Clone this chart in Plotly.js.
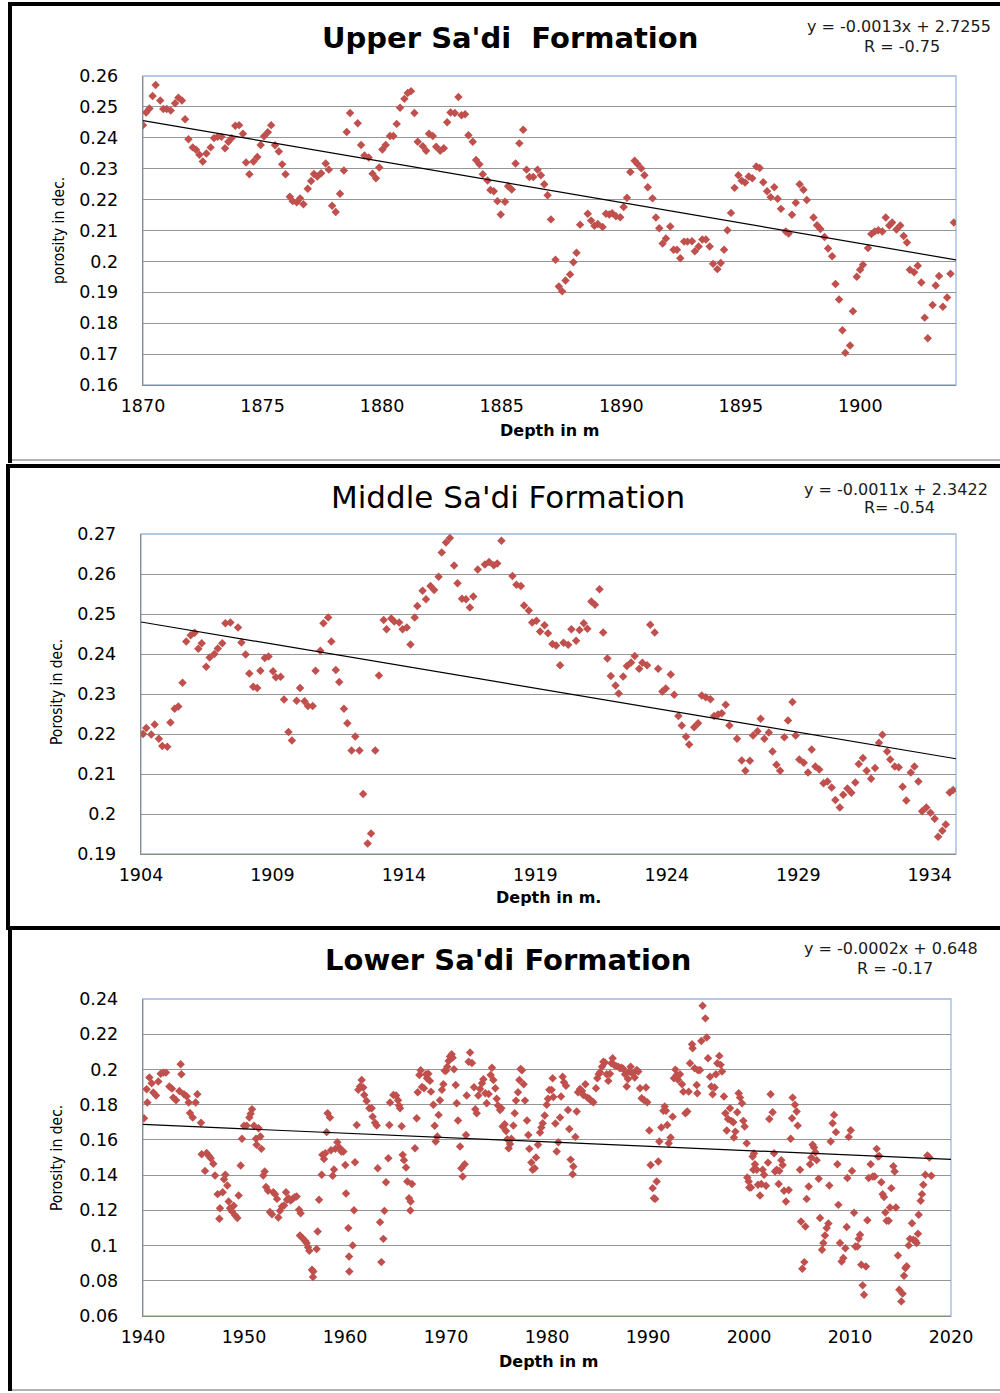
<!DOCTYPE html>
<html>
<head>
<meta charset="utf-8">
<script src="https://cdn.plot.ly/plotly-3.0.1.min.js"></script>
<style>
html,body{margin:0;padding:0;background:#fff;}
#chart{width:1000px;height:1393px;}
</style>
</head>
<body>
<div id="chart"></div>
<script>
// ---------------- DATA ----------------
const upperTitle = "Upper Sa'di  Formation";
const middleTitle = "Middle Sa'di Formation";
const lowerTitle = "Lower Sa'di Formation";

const upperPoints = [[1870.00,0.2441],[1870.13,0.2482],[1870.27,0.2495],[1870.40,0.2535],[1870.53,0.2571],[1870.72,0.2521],[1870.85,0.2493],[1870.99,0.2493],[1871.16,0.2488],[1871.34,0.2512],[1871.48,0.2530],[1871.63,0.2521],[1871.76,0.2460],[1871.90,0.2395],[1872.08,0.2369],[1872.22,0.2361],[1872.36,0.2345],[1872.50,0.2323],[1872.65,0.2349],[1872.83,0.2369],[1872.97,0.2399],[1873.12,0.2403],[1873.28,0.2403],[1873.43,0.2366],[1873.57,0.2387],[1873.71,0.2399],[1873.86,0.2439],[1874.02,0.2441],[1874.18,0.2413],[1874.31,0.2320],[1874.45,0.2282],[1874.62,0.2323],[1874.78,0.2338],[1874.92,0.2377],[1875.06,0.2405],[1875.22,0.2418],[1875.36,0.2441],[1875.52,0.2376],[1875.68,0.2356],[1875.82,0.2314],[1875.96,0.2282],[1876.14,0.2209],[1876.26,0.2195],[1876.43,0.2191],[1876.57,0.2204],[1876.71,0.2185],[1876.89,0.2235],[1877.03,0.2260],[1877.15,0.2283],[1877.29,0.2275],[1877.45,0.2285],[1877.64,0.2317],[1877.77,0.2297],[1877.91,0.2180],[1878.06,0.2160],[1878.24,0.2219],[1878.40,0.2294],[1878.52,0.2419],[1878.66,0.2480],[1878.98,0.2447],[1879.12,0.2377],[1879.26,0.2343],[1879.44,0.2336],[1879.60,0.2284],[1879.74,0.2269],[1879.88,0.2304],[1880.01,0.2362],[1880.15,0.2377],[1880.33,0.2406],[1880.47,0.2406],[1880.61,0.2445],[1880.75,0.2497],[1880.93,0.2526],[1881.07,0.2545],[1881.21,0.2551],[1881.35,0.2480],[1881.49,0.2387],
[1881.70,0.2373],[1881.84,0.2358],[1881.96,0.2413],[1882.12,0.2406],[1882.26,0.2371],[1882.43,0.2358],[1882.58,0.2366],[1882.72,0.2450],[1882.86,0.2482],[1883.04,0.2480],[1883.19,0.2532],[1883.32,0.2473],[1883.47,0.2476],[1883.61,0.2408],[1883.79,0.2387],[1883.93,0.2328],[1884.07,0.2314],[1884.21,0.2282],[1884.41,0.2262],[1884.53,0.2231],[1884.67,0.2227],[1884.82,0.2195],[1884.96,0.2152],[1885.14,0.2193],[1885.27,0.2243],[1885.42,0.2233],[1885.58,0.2317],[1885.74,0.2382],[1885.90,0.2426],[1886.04,0.2297],[1886.16,0.2273],[1886.32,0.2273],[1886.50,0.2297],[1886.64,0.2279],[1886.78,0.2250],[1886.92,0.2214],[1887.06,0.2136],[1887.25,0.2005],[1887.39,0.1919],[1887.53,0.1903],[1887.67,0.1938],[1887.86,0.1958],[1888.00,0.1997],[1888.13,0.2028],[1888.28,0.2119],[1888.60,0.2154],[1888.74,0.2132],[1888.88,0.2115],[1889.02,0.2121],[1889.22,0.2111],[1889.36,0.2154],[1889.50,0.2152],[1889.62,0.2156],[1889.78,0.2146],[1889.96,0.2143],[1890.10,0.2176],[1890.24,0.2206],[1890.38,0.2289],[1890.56,0.2326],[1890.68,0.2315],[1890.84,0.2301],[1890.97,0.2279],[1891.11,0.2240],[1891.31,0.2204],[1891.45,0.2142],[1891.59,0.2107],[1891.73,0.2058],[1891.87,0.2074],[1892.05,0.2113],[1892.19,0.2038],[1892.33,0.2038],[1892.47,0.2010],[1892.63,0.2064],[1892.77,0.2064],
[1892.96,0.2065],[1893.08,0.2033],[1893.24,0.2048],[1893.39,0.2071],[1893.54,0.2071],[1893.70,0.2048],[1893.84,0.1992],[1894.02,0.1975],[1894.16,0.1995],[1894.30,0.2038],[1894.44,0.2101],[1894.59,0.2157],[1894.74,0.2238],[1894.90,0.2279],[1895.04,0.2261],[1895.18,0.2255],[1895.33,0.2275],[1895.48,0.2269],[1895.65,0.2307],[1895.79,0.2302],[1895.94,0.2256],[1896.10,0.2227],[1896.25,0.2208],[1896.40,0.2240],[1896.54,0.2203],[1896.68,0.2170],[1896.88,0.2097],[1897.00,0.2090],[1897.14,0.2151],[1897.30,0.2190],[1897.46,0.2250],[1897.62,0.2232],[1897.76,0.2199],[1898.04,0.2142],[1898.19,0.2117],[1898.33,0.2105],[1898.50,0.2079],[1898.65,0.2042],[1898.82,0.2017],[1898.96,0.1927],[1899.11,0.1877],[1899.25,0.1777],[1899.37,0.1704],[1899.57,0.1728],[1899.69,0.1839],[1899.85,0.1950],[1899.99,0.1973],[1900.11,0.1989],[1900.32,0.2043],[1900.46,0.2089],[1900.60,0.2097],[1900.75,0.2101],[1900.92,0.2097],[1901.06,0.2142],[1901.21,0.2116],[1901.33,0.2126],[1901.51,0.2103],[1901.67,0.2116],[1901.81,0.2082],[1901.95,0.2061],[1902.07,0.1973],[1902.25,0.1965],[1902.40,0.1986],[1902.55,0.1932],[1902.69,0.1818],[1902.82,0.1751],[1903.02,0.1859],[1903.15,0.1922],[1903.29,0.1953],[1903.45,0.1853],[1903.63,0.1883],[1903.77,0.1960],[1903.91,0.2126]];

const middlePoints = [[1904.08,0.2200],[1904.20,0.2215],[1904.39,0.2199],[1904.52,0.2224],[1904.68,0.2188],[1904.81,0.2170],[1905.00,0.2168],[1905.12,0.2229],[1905.28,0.2263],[1905.42,0.2269],[1905.58,0.2328],[1905.72,0.2431],[1905.89,0.2447],[1906.04,0.2453],[1906.18,0.2413],[1906.31,0.2427],[1906.48,0.2368],[1906.61,0.2391],[1906.79,0.2400],[1906.92,0.2414],[1907.09,0.2427],[1907.21,0.2477],[1907.40,0.2479],[1907.69,0.2466],[1907.82,0.2429],[1907.98,0.2399],[1908.12,0.2351],[1908.27,0.2318],[1908.42,0.2315],[1908.54,0.2358],[1908.71,0.2390],[1908.85,0.2394],[1909.02,0.2357],[1909.13,0.2342],[1909.31,0.2343],[1909.44,0.2286],[1909.61,0.2205],[1909.74,0.2184],[1909.92,0.2283],[1910.05,0.2315],[1910.22,0.2282],[1910.35,0.2270],[1910.53,0.2270],[1910.64,0.2358],[1910.82,0.2408],[1910.94,0.2477],[1911.12,0.2491],[1911.24,0.2431],[1911.41,0.2360],[1911.54,0.2330],[1911.72,0.2263],[1911.85,0.2227],[1912.01,0.2159],[1912.15,0.2194],[1912.31,0.2159],[1912.45,0.2050],[1912.62,0.1926],[1912.75,0.1951],[1912.91,0.2159],[1913.05,0.2346],[1913.23,0.2485],[1913.34,0.2462],[1913.52,0.2489],[1913.63,0.2481],[1913.82,0.2479],[1913.95,0.2462],[1914.11,0.2466],[1914.25,0.2424],[1914.41,0.2491],[1914.51,0.2520],
[1914.71,0.2558],[1914.84,0.2537],[1915.01,0.2570],[1915.15,0.2560],[1915.32,0.2593],[1915.44,0.2654],[1915.60,0.2679],[1915.75,0.2690],[1915.91,0.2621],[1916.04,0.2577],[1916.21,0.2538],[1916.36,0.2537],[1916.51,0.2516],[1916.64,0.2544],[1916.81,0.2611],[1917.08,0.2624],[1917.24,0.2630],[1917.42,0.2622],[1917.55,0.2626],[1917.71,0.2683],[1918.13,0.2595],[1918.28,0.2573],[1918.45,0.2570],[1918.57,0.2521],[1918.75,0.2509],[1918.88,0.2479],[1919.04,0.2483],[1919.18,0.2456],[1919.35,0.2472],[1919.48,0.2452],[1919.65,0.2425],[1919.79,0.2421],[1919.94,0.2372],[1920.07,0.2428],[1920.25,0.2423],[1920.37,0.2462],[1920.55,0.2433],[1920.68,0.2460],[1920.84,0.2477],[1920.98,0.2463],[1921.13,0.2531],[1921.27,0.2523],[1921.44,0.2562],[1921.58,0.2454],[1921.74,0.2389],[1921.87,0.2345],[1922.05,0.2321],[1922.17,0.2301],[1922.34,0.2344],[1922.48,0.2370],[1922.64,0.2379],[1922.78,0.2395],[1922.95,0.2363],[1923.07,0.2378],[1923.25,0.2372],[1923.37,0.2473],[1923.54,0.2454],[1923.67,0.2363],[1923.83,0.2306],[1923.96,0.2314],[1924.15,0.2349],[1924.28,0.2298],[1924.44,0.2245],[1924.57,0.2221],[1924.73,0.2193],[1924.85,0.2174],
[1925.04,0.2217],[1925.19,0.2227],[1925.33,0.2296],[1925.48,0.2292],[1925.66,0.2287],[1925.80,0.2245],[1925.95,0.2249],[1926.09,0.2252],[1926.24,0.2273],[1926.38,0.2221],[1926.67,0.2188],[1926.85,0.2134],[1926.99,0.2108],[1927.16,0.2133],[1927.28,0.2196],[1927.45,0.2207],[1927.57,0.2238],[1927.71,0.2188],[1927.88,0.2204],[1928.02,0.2156],[1928.17,0.2123],[1928.31,0.2108],[1928.47,0.2192],[1928.61,0.2234],[1928.78,0.2280],[1928.90,0.2196],[1929.04,0.2136],[1929.21,0.2128],[1929.37,0.2104],[1929.51,0.2161],[1929.65,0.2119],[1929.80,0.2111],[1929.96,0.2077],[1930.11,0.2081],[1930.27,0.2066],[1930.41,0.2035],[1930.58,0.2016],[1930.71,0.2048],[1930.87,0.2064],[1931.02,0.2053],[1931.17,0.2079],[1931.30,0.2125],[1931.46,0.2140],[1931.60,0.2108],[1931.77,0.2088],[1931.92,0.2115],[1932.07,0.2178],[1932.20,0.2198],[1932.38,0.2156],[1932.50,0.2136],[1932.67,0.2119],[1932.82,0.2117],[1932.97,0.2068],[1933.11,0.2034],[1933.28,0.2104],[1933.42,0.2119],[1933.57,0.2081],[1933.71,0.2007],[1933.87,0.2016],[1934.03,0.2003],[1934.19,0.1988],[1934.32,0.1943],[1934.48,0.1958],[1934.61,0.1974],[1934.76,0.2054],[1934.89,0.2060]];

const lowerPoints = [[1940.10,0.1723],[1940.36,0.1888],[1940.43,0.1812],[1940.63,0.1954],[1940.86,0.1922],[1941.02,0.1869],[1941.29,0.1852],[1941.52,0.1931],[1941.75,0.1975],[1942.01,0.1982],[1942.28,0.1982],[1942.61,0.1903],[1942.87,0.1891],[1943.00,0.1840],[1943.27,0.1825],[1943.60,0.1878],[1943.73,0.2029],[1943.80,0.1973],[1944.06,0.1859],[1944.32,0.1848],[1944.52,0.1812],[1944.65,0.1753],[1944.92,0.1727],[1945.21,0.1812],[1945.38,0.1859],[1945.74,0.1697],[1945.81,0.1519],[1946.14,0.1424],[1946.30,0.1526],[1946.53,0.1509],[1946.70,0.1496],[1946.96,0.1464],[1947.13,0.1398],[1947.39,0.1292],[1947.56,0.1152],[1947.62,0.1212],[1947.89,0.1303],[1948.02,0.1377],[1948.15,0.1402],[1948.35,0.1341],[1948.48,0.1250],[1948.61,0.1212],[1948.81,0.1194],[1948.98,0.1226],[1949.14,0.1171],[1949.34,0.1156],[1949.47,0.1284],[1949.67,0.1454],[1949.80,0.1606],[1950.00,0.1680],[1950.26,0.1681],[1950.53,0.1727],[1950.66,0.1748],[1950.79,0.1774],[1950.99,0.1680],[1951.19,0.1606],[1951.25,0.1572],[1951.45,0.1666],[1951.62,0.1619],[1951.72,0.1549],[1951.91,0.1398],[1952.05,0.1420],[1952.18,0.1332],[1952.38,0.1311],[1952.57,0.1190],[1952.77,0.1178],[1952.90,0.1303],[1953.07,0.1292],[1953.27,0.1265],[1953.40,0.1159],[1953.56,0.1197],[1953.76,0.1222],[1953.96,0.1228],[1954.16,0.1303],[1954.26,0.1260],[1954.42,0.1269],[1954.62,0.1256],[1954.82,0.1265],[1955.02,0.1275],[1955.21,0.1279],[1955.45,0.1203],[1955.54,0.1057],[1955.61,0.1184],[1955.81,0.1042],[1956.04,0.1027],[1956.20,0.1014],[1956.34,0.0991],[1956.47,0.0970],[1956.73,0.0863],[1956.83,0.0821],[1956.86,0.0853],[1957.19,0.0980],[1957.29,0.1080],[1957.43,0.1260],[1957.69,0.1402],[1957.76,0.1515],[1957.92,0.1492],[1958.05,0.1524],[1958.18,0.1644],[1958.28,0.1751],[1958.51,0.1727],[1958.61,0.1541],[1958.78,0.1396],[1958.91,0.1432],[1959.04,0.1549],[1959.24,0.1587],[1959.44,0.1557],[1959.64,0.1534],[1959.84,0.1534],[1960.03,0.1458],[1960.10,0.1296],[1960.33,0.1099],[1960.40,0.0938],[1960.43,0.0853],
[1960.76,0.1001],[1960.89,0.1201],[1960.99,0.1473],[1961.16,0.1685],[1961.32,0.1884],[1961.49,0.1903],[1961.65,0.1940],[1961.81,0.1897],[1961.91,0.1855],[1962.14,0.1821],[1962.41,0.1780],[1962.64,0.1780],[1962.74,0.1732],[1962.97,0.1698],[1963.14,0.1681],[1963.24,0.1439],[1963.47,0.1133],[1963.60,0.0906],[1963.80,0.1038],[1963.90,0.1197],[1964.06,0.1360],[1964.29,0.1496],[1964.39,0.1685],[1964.46,0.1812],[1964.79,0.1855],[1965.05,0.1852],[1965.25,0.1825],[1965.35,0.1795],[1965.45,0.1780],[1965.61,0.1678],[1965.71,0.1515],[1965.84,0.1485],[1966.04,0.1443],[1966.17,0.1364],[1966.34,0.1269],[1966.47,0.1199],[1966.50,0.1250],[1966.63,0.1349],[1966.93,0.1553],[1967.10,0.1723],[1967.20,0.1870],[1967.36,0.1969],[1967.49,0.1995],[1967.62,0.1901],[1967.82,0.1893],[1968.02,0.1973],[1968.12,0.1950],[1968.25,0.1976],[1968.41,0.1935],[1968.51,0.1874],[1968.75,0.1799],[1968.88,0.1680],[1968.98,0.1591],[1969.14,0.1619],[1969.27,0.1742],[1969.40,0.1825],[1969.60,0.1884],[1969.74,0.1916],[1969.87,0.1992],[1970.00,0.1992],[1970.13,0.2016],[1970.26,0.2048],[1970.40,0.2073],[1970.56,0.2086],[1970.66,0.2067],[1970.79,0.2001],[1970.96,0.1912],[1971.06,0.1808],[1971.19,0.1710],[1971.39,0.1562],[1971.52,0.1439],[1971.65,0.1392],[1971.85,0.1462],[1971.98,0.1628],[1972.05,0.1852],[1972.24,0.2044],[1972.38,0.2096],[1972.57,0.2037],[1972.77,0.1899],[1972.90,0.1774],[1973.04,0.1751],[1973.20,0.1852],[1973.37,0.1889],[1973.56,0.1922],[1973.70,0.1944],[1973.89,0.1865],[1974.03,0.1808],[1974.22,0.1861],[1974.42,0.1969],[1974.55,0.2010],[1974.69,0.1940],[1974.88,0.1893],[1975.02,0.1833],[1975.15,0.1795],[1975.35,0.1770],[1975.48,0.1780],[1975.61,0.1676],[1975.81,0.1689],[1975.94,0.1651],[1976.07,0.1604],[1976.20,0.1553],[1976.34,0.1576],[1976.47,0.1606],[1976.67,0.1681],[1976.80,0.1751],[1976.93,0.1823],[1977.13,0.1870],[1977.26,0.1940],[1977.39,0.2003],[1977.52,0.1995],[1977.69,0.1916],[1977.82,0.1823],[1978.02,0.1710],[1978.15,0.1628],[1978.25,0.1549],[1978.45,0.1472],[1978.58,0.1430],[1978.78,0.1439],[1978.91,0.1500],[1979.11,0.1572],[1979.31,0.1642],[1979.44,0.1670],[1979.57,0.1695],[1979.77,0.1738],[1979.97,0.1799],[1980.10,0.1833],[1980.23,0.1884],
[1980.46,0.1884],[1980.56,0.1950],[1980.63,0.1844],[1980.83,0.1693],[1980.96,0.1534],[1981.12,0.1587],[1981.29,0.1727],[1981.39,0.1846],[1981.55,0.1959],[1981.68,0.1927],[1981.88,0.1908],[1982.08,0.1770],[1982.21,0.1662],[1982.34,0.1488],[1982.54,0.1405],[1982.61,0.1449],[1982.81,0.1617],[1982.94,0.1761],[1983.07,0.1870],[1983.27,0.1889],[1983.47,0.1878],[1983.60,0.1855],[1983.80,0.1916],[1984.00,0.1840],[1984.19,0.1833],[1984.39,0.1821],[1984.59,0.1814],[1984.85,0.1893],[1984.98,0.1950],[1985.12,0.1973],[1985.25,0.1984],[1985.45,0.2016],[1985.58,0.2044],[1985.74,0.2040],[1985.91,0.1973],[1986.07,0.1935],[1986.24,0.1976],[1986.37,0.2035],[1986.50,0.2063],[1986.63,0.2026],[1986.83,0.2020],[1987.06,0.2016],[1987.23,0.2007],[1987.39,0.2010],[1987.56,0.2003],[1987.72,0.1973],[1987.89,0.1903],[1988.02,0.1946],[1988.15,0.1988],[1988.28,0.2016],[1988.48,0.1976],[1988.68,0.1954],[1988.88,0.1997],[1989.04,0.1988],[1989.21,0.1893],[1989.37,0.1836],[1989.60,0.1827],[1989.80,0.1897],[1989.93,0.1814],[1990.13,0.1653],[1990.26,0.1458],[1990.46,0.1326],[1990.59,0.1269],[1990.72,0.1265],[1990.86,0.1364],[1991.02,0.1477],[1991.12,0.1591],[1991.32,0.1670],[1991.52,0.1765],[1991.65,0.1789],[1991.78,0.1765],[1991.91,0.1685],[1992.05,0.1581],[1992.24,0.1613],[1992.44,0.1732],[1992.57,0.1950],[1992.71,0.1999],[1992.84,0.1969],[1992.97,0.1942],[1993.17,0.1973],[1993.37,0.1916],[1993.50,0.1874],[1993.70,0.1751],[1993.89,0.1761],[1994.03,0.1874],[1994.16,0.2035],[1994.36,0.2143],[1994.42,0.2120],[1994.62,0.2007],[1994.82,0.1912],[1994.88,0.1865],[1994.95,0.1995],[1995.15,0.1997],[1995.28,0.2162],[1995.41,0.2362],[1995.68,0.2290],[1995.81,0.2181],[1995.94,0.2063],[1996.14,0.1959],[1996.27,0.1903],[1996.40,0.1859],[1996.60,0.1897],[1996.73,0.1973],[1996.86,0.2035],[1997.06,0.2077],[1997.19,0.2026],[1997.33,0.1988],[1997.52,0.1846],[1997.66,0.1751],[1997.79,0.1653],[1997.92,0.1719],[1998.12,0.1780],[1998.25,0.1708],[1998.45,0.1700],[1998.51,0.1613],[1998.65,0.1647],[1998.84,0.1757],[1998.98,0.1865],[1999.11,0.1840],[1999.31,0.1808],[1999.44,0.1708],[1999.57,0.1676],[1999.77,0.1581],[1999.83,0.1386],[1999.97,0.1364],[2000.03,0.1330],
[2000.20,0.1330],[2000.36,0.1506],[2000.43,0.1430],[2000.49,0.1523],[2000.59,0.1462],[2000.76,0.1430],[2000.89,0.1345],[2001.09,0.1284],[2001.22,0.1349],[2001.35,0.1430],[2001.49,0.1402],[2001.68,0.1339],[2001.88,0.1471],[2002.01,0.1719],[2002.14,0.1859],[2002.34,0.1757],[2002.48,0.1524],[2002.58,0.1420],[2002.74,0.1430],[2002.94,0.1349],[2003.00,0.1424],[2003.20,0.1485],[2003.33,0.1458],[2003.47,0.1311],[2003.66,0.1250],[2003.93,0.1315],[2004.13,0.1606],[2004.26,0.1723],[2004.32,0.1840],[2004.55,0.1799],[2004.72,0.1761],[2004.82,0.1681],[2005.05,0.1430],[2005.15,0.1137],[2005.28,0.0868],[2005.48,0.0906],[2005.58,0.1108],[2005.71,0.1265],[2005.91,0.1335],[2006.04,0.1462],[2006.17,0.1500],[2006.30,0.1572],[2006.44,0.1557],[2006.57,0.1530],[2006.70,0.1485],[2006.90,0.1379],[2007.03,0.1156],[2007.23,0.0976],[2007.36,0.1014],[2007.52,0.1057],[2007.69,0.1099],[2007.86,0.1125],[2007.95,0.1341],[2008.09,0.1591],[2008.28,0.1695],[2008.42,0.1742],[2008.61,0.1644],[2008.75,0.1462],[2008.85,0.1231],[2009.01,0.1014],[2009.17,0.0910],[2009.34,0.0929],[2009.54,0.0985],[2009.67,0.1105],[2009.74,0.1383],[2009.87,0.1617],[2010.07,0.1655],[2010.20,0.1424],[2010.40,0.1186],[2010.53,0.0995],[2010.73,0.0995],[2010.86,0.1038],[2010.99,0.1061],[2011.12,0.0891],[2011.25,0.0774],[2011.39,0.0721],[2011.58,0.0881],[2011.72,0.1144],[2011.85,0.1383],[2012.05,0.1462],[2012.25,0.1392],[2012.44,0.1392],[2012.64,0.1549],[2012.77,0.1506],[2012.90,0.1508],[2013.10,0.1360],[2013.23,0.1292],[2013.37,0.1275],[2013.50,0.1188],[2013.63,0.1141],[2013.83,0.1141],[2013.96,0.1216],[2014.09,0.1326],[2014.29,0.1451],[2014.42,0.1420],[2014.55,0.1216],[2014.75,0.0944],[2014.88,0.0749],[2015.08,0.0683],[2015.21,0.0727],[2015.35,0.0829],[2015.48,0.0872],[2015.61,0.0882],[2015.81,0.1001],[2015.94,0.1038],[2016.14,0.1127],[2016.27,0.1033],[2016.47,0.1027],[2016.60,0.1014],[2016.73,0.1067],[2016.80,0.1175],[2017.00,0.1254],[2017.13,0.1292],[2017.26,0.1345],[2017.46,0.1402],[2017.66,0.1511],[2017.86,0.1500],[2018.05,0.1396]];

const upperTrend = {slope:-0.001326, intercept:2.7252, eq:"y = -0.0013x + 2.7255", r:"R = -0.75"};
const middleTrend = {slope:-0.0011032, intercept:2.3485, eq:"y = -0.0011x + 2.3422", r:"R= -0.54"};
const lowerTrend = {slope:-0.000248, intercept:0.6499, eq:"y = -0.0002x + 0.648", r:"R = -0.17"};

// axis ranges & ticks
const upperXRange = [1870, 1904];
const upperXTicks = [1870,1875,1880,1885,1890,1895,1900];
const upperYTicks = [0.16,0.17,0.18,0.19,0.2,0.21,0.22,0.23,0.24,0.25,0.26];
const upperYText = ["0.16","0.17","0.18","0.19","0.2","0.21","0.22","0.23","0.24","0.25","0.26"];

const middleXRange = [1904, 1935];
const middleXTicks = [1904,1909,1914,1919,1924,1929,1934];
const middleYTicks = [0.19,0.2,0.21,0.22,0.23,0.24,0.25,0.26,0.27];
const middleYText = ["0.19","0.2","0.21","0.22","0.23","0.24","0.25","0.26","0.27"];

const lowerXRange = [1940, 2020];
const lowerXTicks = [1940,1950,1960,1970,1980,1990,2000,2010,2020];
const lowerYTicks = [0.06,0.08,0.1,0.12,0.14,0.16,0.18,0.2,0.22,0.24];
const lowerYText = ["0.06","0.08","0.1","0.12","0.14","0.16","0.18","0.2","0.22","0.24"];

// ---------------- LAYOUT HELPERS ----------------
const W = 1000, H = 1393;
const px = x => x / W;
const py = y => 1 - y / H;

const markerColor = '#c0504d';
const gridColor = '#969696';
const axisLineColor = '#8a8a8a';
const plotBorder = '#9cb8de';
const tickFont = {family:'DejaVu Sans, Verdana, sans-serif', size:17.5, color:'#000'};

function scatterTrace(points, xa, ya){
  return {
    type:'scatter', mode:'markers', xaxis:xa, yaxis:ya,
    x: points.map(p=>p[0]), y: points.map(p=>p[1]),
    marker:{symbol:'diamond', size:6.5, color:markerColor, line:{width:0}},
    hoverinfo:'x+y', showlegend:false
  };
}
function trendTrace(tr, range, xa, ya){
  return {
    type:'scatter', mode:'lines', xaxis:xa, yaxis:ya,
    x: range.slice(), y: range.map(v => tr.slope*v + tr.intercept),
    line:{color:'#000', width:1.2}, hoverinfo:'skip', showlegend:false
  };
}
function xAxis(dom, range, ticks, anchor){
  return {domain:dom, range:range, anchor:anchor, tickvals:ticks, ticktext:ticks.map(String),
    showgrid:false, zeroline:false, showline:true, linecolor:axisLineColor, linewidth:1.3,
    ticks:'', tickfont:tickFont, ticklabelstandoff:5, fixedrange:true};
}
function yAxis(dom, range, ticks, text, anchor){
  return {domain:dom, range:range, anchor:anchor, tickvals:ticks, ticktext:text,
    showgrid:true, gridcolor:gridColor, gridwidth:1, zeroline:false, showline:true,
    linecolor:axisLineColor, linewidth:1.3, ticks:'', tickfont:tickFont, ticklabelstandoff:20, fixedrange:true};
}

// plot-area pixel boxes
const box1 = {l:143, r:956, t:76, b:385};
const box2 = {l:141, r:956, t:534, b:854};
const box3 = {l:143, r:951, t:999, b:1316};

const traces = [
  scatterTrace(upperPoints,'x','y'),
  trendTrace(upperTrend, upperXRange,'x','y'),
  scatterTrace(middlePoints,'x2','y2'),
  trendTrace(middleTrend, middleXRange,'x2','y2'),
  scatterTrace(lowerPoints,'x3','y3'),
  trendTrace(lowerTrend, lowerXRange,'x3','y3')
];

function ann(text, x, y, size, opts){
  return Object.assign({text:text, xref:'paper', yref:'paper', x:px(x), y:py(y),
    xanchor:'center', yanchor:'middle', showarrow:false,
    font:{family:'DejaVu Sans, Verdana, sans-serif', size:size, color:'#000'}}, opts||{});
}
const yTitleFont = {family:'Liberation Sans Narrow, DejaVu Sans Condensed, Arial Narrow, sans-serif', size:15.5, color:'#000'};
const eqFont = {family:'DejaVu Sans, Verdana, sans-serif', size:16, color:'#1a1a1a'};

const annotations = [
  ann('<b>'+upperTitle+'</b>', 510, 38, 29),
  ann(upperTrend.eq, 899, 26, 16, {font:eqFont}),
  ann(upperTrend.r, 902, 46, 16, {font:eqFont}),
  ann('<b>Depth in m</b>', 549, 430, 16),
  ann('porosity in dec.', 59, 231, 15.5, {textangle:-90, font:yTitleFont}),

  ann(middleTitle, 508, 497, 31),
  ann(middleTrend.eq, 896, 489, 16, {font:eqFont}),
  ann(middleTrend.r, 899, 508, 16, {font:eqFont}),
  ann('<b>Depth in m.</b>', 548, 897, 16),
  ann('Porosity in dec.', 57, 692, 15.5, {textangle:-90, font:yTitleFont}),

  ann('<b>'+lowerTitle+'</b>', 508, 960, 29),
  ann(lowerTrend.eq, 891, 948, 16, {font:eqFont}),
  ann(lowerTrend.r, 895, 968, 16, {font:eqFont}),
  ann('<b>Depth in m</b>', 548, 1361, 16),
  ann('Porosity in dec.', 57, 1158, 15.5, {textangle:-90, font:yTitleFont})
];

function lineShape(x0,y0,x1,y1,color,width){
  return {type:'line', xref:'paper', yref:'paper', x0:px(x0), y0:py(y0), x1:px(x1), y1:py(y1),
    line:{color:color, width:width}, layer:'above'};
}
function rectShape(b){
  return {type:'rect', xref:'paper', yref:'paper', x0:px(b.l), x1:px(b.r), y0:py(b.b), y1:py(b.t),
    line:{color:plotBorder, width:1.3}, layer:'below'};
}

const shapes = [
  rectShape(box1), rectShape(box2), rectShape(box3),
  // panel 1 frame
  lineShape(8, 4, 1000, 4, '#000', 4),
  lineShape(10, 4, 10, 463, '#000', 4),
  lineShape(12, 460, 1000, 460, '#9a9a9a', 1.5),
  // panel 2 frame
  lineShape(6, 466, 1000, 466, '#000', 4),
  lineShape(8, 466, 8, 927, '#000', 4),
  // panel 3 frame
  lineShape(6, 928, 1000, 928, '#000', 4),
  lineShape(10, 928, 10, 1391, '#000', 4),
  lineShape(12, 1390, 1000, 1390, '#9a9a9a', 1.5)
];

const layout = {
  width:W, height:H, margin:{l:0,r:0,t:0,b:0},
  paper_bgcolor:'#fff', plot_bgcolor:'rgba(0,0,0,0)',
  showlegend:false,
  xaxis: xAxis([px(box1.l), px(box1.r)], upperXRange, upperXTicks, 'y'),
  yaxis: yAxis([py(box1.b), py(box1.t)], [0.16,0.26], upperYTicks, upperYText, 'x'),
  xaxis2: xAxis([px(box2.l), px(box2.r)], middleXRange, middleXTicks, 'y2'),
  yaxis2: yAxis([py(box2.b), py(box2.t)], [0.19,0.27], middleYTicks, middleYText, 'x2'),
  xaxis3: xAxis([px(box3.l), px(box3.r)], lowerXRange, lowerXTicks, 'y3'),
  yaxis3: yAxis([py(box3.b), py(box3.t)], [0.06,0.24], lowerYTicks, lowerYText, 'x3'),
  annotations: annotations,
  shapes: shapes
};

Plotly.newPlot('chart', traces, layout, {displayModeBar:false, staticPlot:true});
</script>
</body>
</html>
